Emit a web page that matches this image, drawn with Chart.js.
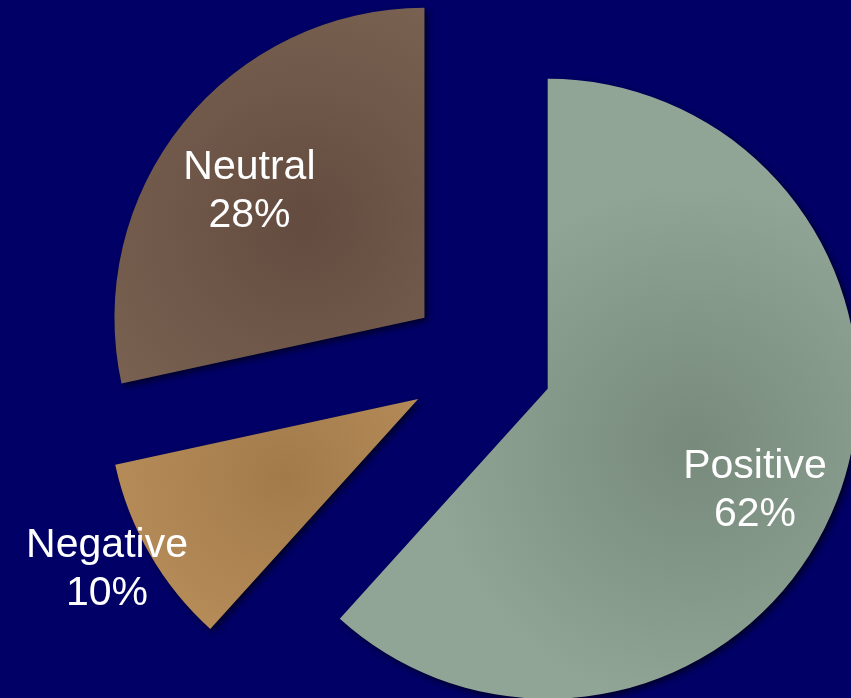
<!DOCTYPE html>
<html>
<head>
<meta charset="utf-8">
<script src="https://cdn.jsdelivr.net/npm/chart.js@4/dist/chart.umd.min.js"></script>
<style>
  html, body { margin: 0; padding: 0; background: #000066; }
  #wrap { width: 851px; height: 698px; }
</style>
</head>
<body>
<div id="wrap"><canvas id="c" width="851" height="698"></canvas></div>
<script>
// ---- data ----
const categories = ['Positive', 'Negative', 'Neutral'];
const values = [61.7, 9.9, 28.4];
const shownPercents = ['62%', '10%', '28%'];

// ---- styles ----
const centerColors = ['#778a7c', '#a27a4a', '#634c3f'];
const edgeColors   = ['#90a595', '#c09660', '#7b6353'];
const EXPLODE = 72;   // px each slice is pulled out along its mid-angle
const RADIUS = 310;
// label placement relative to slice tip: [angle tweak (deg), distance as fraction of radius]
const labelPlacement = [[5.1, 0.745], [1.3, 1.145], [-3.2, 0.695]];

function midAngle(i) {
  const total = values.reduce((a, b) => a + b, 0);
  let start = -Math.PI / 2;
  for (let k = 0; k < i; k++) start += values[k] / total * Math.PI * 2;
  return start + values[i] / total * Math.PI;
}

function fillFor(ctx) {
  const chart = ctx.chart;
  const i = ctx.dataIndex;
  const area = chart.chartArea;
  if (!area) return centerColors[i];
  const cx = (area.left + area.right) / 2;
  const cy = (area.top + area.bottom) / 2;
  const mid = midAngle(i);
  const gx = cx + Math.cos(mid) * RADIUS * 0.5;
  const gy = cy + Math.sin(mid) * RADIUS * 0.5;
  const g = chart.ctx.createRadialGradient(gx, gy, 0, gx, gy, RADIUS * 0.85);
  g.addColorStop(0, centerColors[i]);
  g.addColorStop(1, edgeColors[i]);
  return g;
}

// draws each arc element pulled out along its mid-angle, with a soft shadow
const explodePlugin = {
  id: 'explode',
  beforeDatasetDraw(chart, args) {
    const c = chart.ctx;
    const meta = args.meta;
    meta.data.forEach((arc) => {
      const mid = (arc.startAngle + arc.endAngle) / 2;
      c.save();
      c.shadowColor = 'rgba(0,0,20,0.75)';
      c.shadowBlur = 6;
      c.shadowOffsetX = 3;
      c.shadowOffsetY = 3;
      c.translate(Math.cos(mid) * EXPLODE, Math.sin(mid) * EXPLODE);
      arc.draw(c, chart.chartArea);
      c.restore();
    });
    return false;
  }
};

const labelPlugin = {
  id: 'sliceLabels',
  afterDraw(chart) {
    const c = chart.ctx;
    const meta = chart.getDatasetMeta(0);
    c.save();
    c.fillStyle = '#ffffff';
    c.font = '41px "Liberation Sans", Arial, sans-serif';
    c.textAlign = 'center';
    c.textBaseline = 'middle';
    meta.data.forEach((arc, i) => {
      const mid = (arc.startAngle + arc.endAngle) / 2;
      const tipX = arc.x + Math.cos(mid) * EXPLODE;
      const tipY = arc.y + Math.sin(mid) * EXPLODE;
      const [dAng, frac] = labelPlacement[i];
      const a = mid + dAng * Math.PI / 180;
      const lx = tipX + Math.cos(a) * arc.outerRadius * frac;
      const ly = tipY + Math.sin(a) * arc.outerRadius * frac;
      c.fillText(categories[i], lx, ly - 24);
      c.fillText(shownPercents[i], lx, ly + 24);
    });
    c.restore();
  }
};

new Chart(document.getElementById('c'), {
  type: 'pie',
  data: {
    labels: categories,
    datasets: [{
      data: values,
      backgroundColor: fillFor,
      borderWidth: 0,
      offset: 0,
      hoverOffset: 0
    }]
  },
  options: {
    responsive: false,
    animation: false,
    events: [],
    radius: RADIUS,
    layout: { padding: { left: 110, top: 28, right: 0, bottom: 0 } },
    plugins: {
      legend: { display: false },
      tooltip: { enabled: false }
    }
  },
  plugins: [explodePlugin, labelPlugin]
});
</script>
</body>
</html>
